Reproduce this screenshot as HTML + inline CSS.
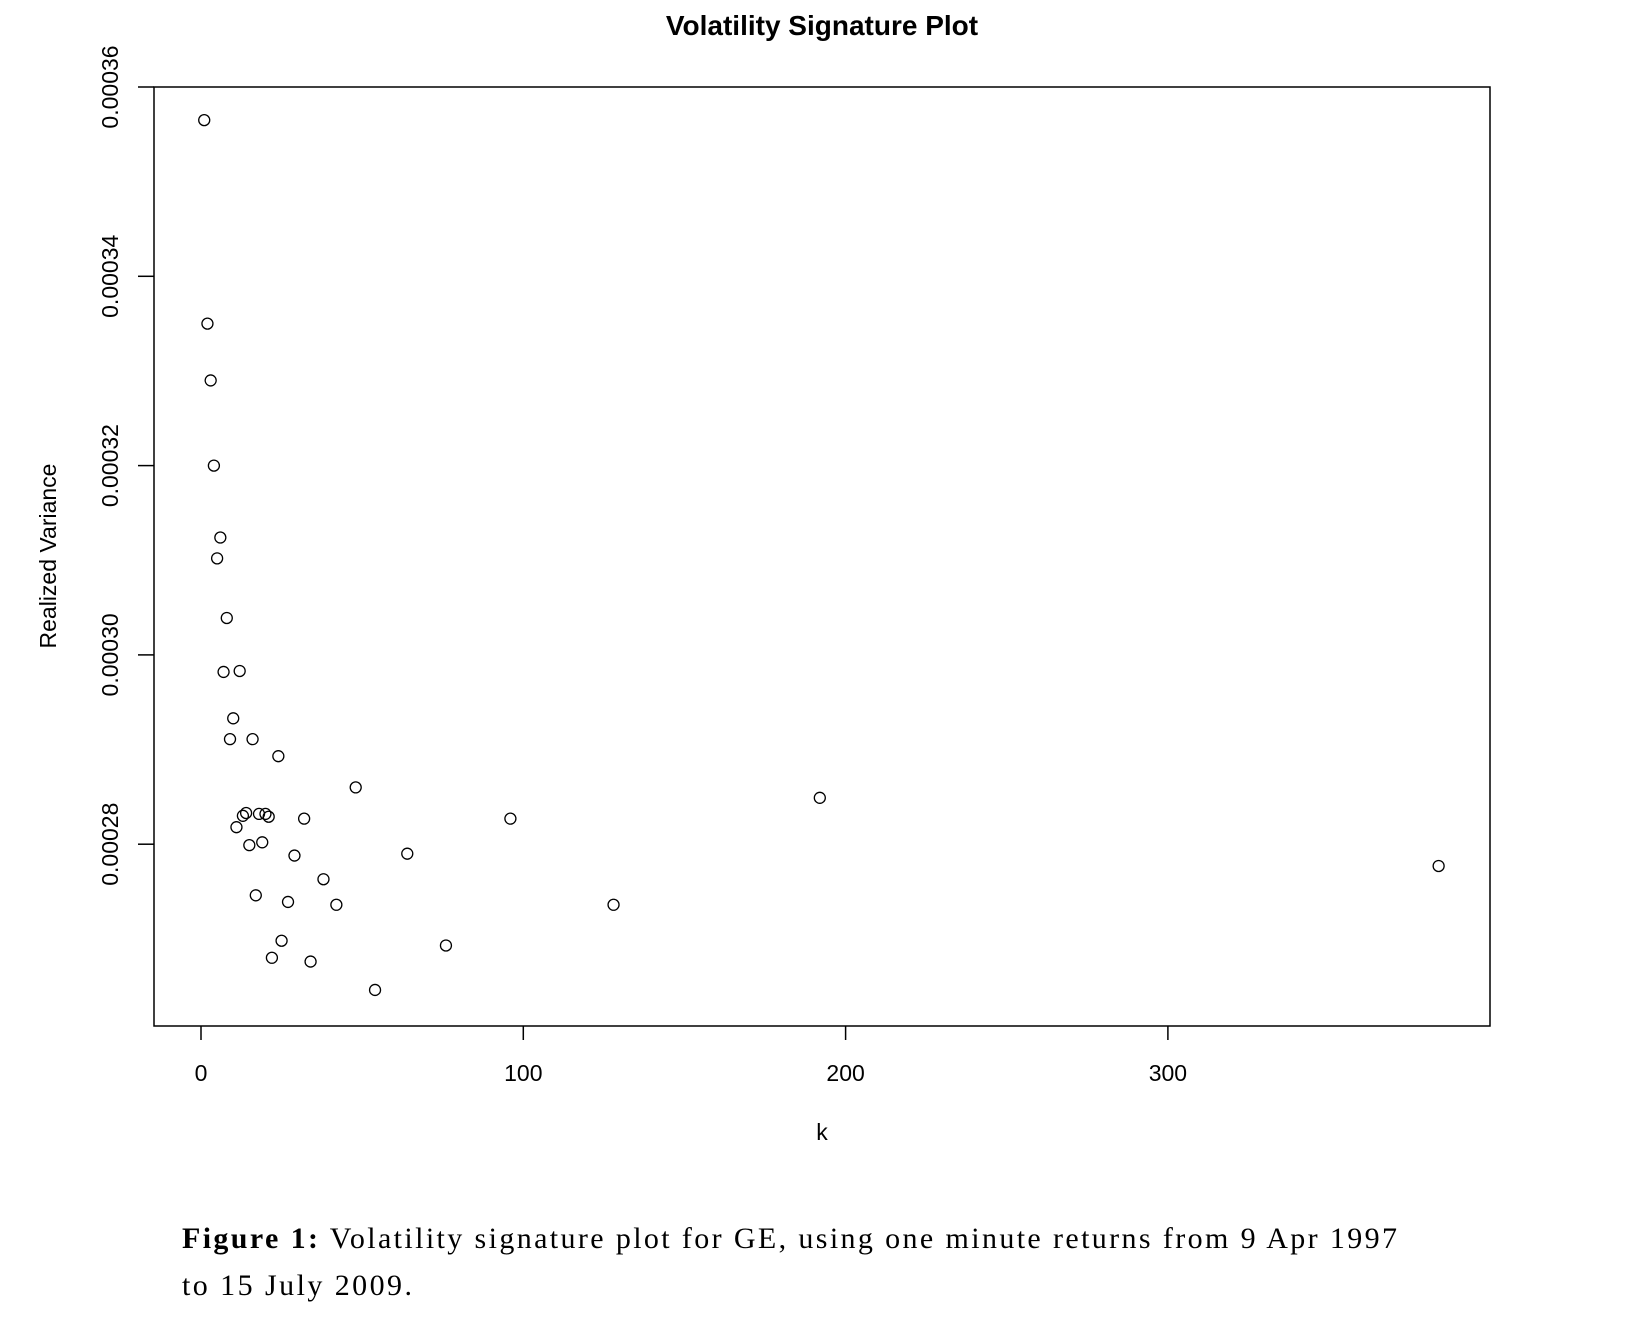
<!DOCTYPE html>
<html><head><meta charset="utf-8"><style>
html,body{margin:0;padding:0;background:#fff;width:1645px;height:1326px;overflow:hidden}
svg{display:block}
</style></head><body>
<svg id="chart" width="1645" height="1326" xmlns="http://www.w3.org/2000/svg">
<text x="822" y="35" text-anchor="middle" font-family="Liberation Sans, sans-serif" font-weight="bold" font-size="28">Volatility Signature Plot</text>
<rect x="154" y="87" width="1336" height="939" fill="none" stroke="#000" stroke-width="1.5"/>
<g id="xaxis"></g>
<g id="yaxis"></g>
<g id="points"></g>
<text x="822" y="1140" text-anchor="middle" font-family="Liberation Sans, sans-serif" font-size="23">k</text>
<text transform="translate(56,556) rotate(-90)" text-anchor="middle" font-family="Liberation Sans, sans-serif" font-size="23">Realized Variance</text>
<text x="182" y="1248" font-family="Liberation Serif, serif" font-size="30" textLength="1215" lengthAdjust="spacing"><tspan font-weight="bold">Figure 1:</tspan>  Volatility signature plot for GE, using one minute returns from 9 Apr 1997</text>
<text x="182" y="1295" font-family="Liberation Serif, serif" font-size="30" textLength="230" lengthAdjust="spacing">to 15 July 2009.</text>
</svg>
<script>
const kValues=[1,2,3,4,5,6,7,8,9,10,11,12,13,14,15,16,17,18,19,20,21,22,24,25,27,29,32,34,38,42,48,54,64,76,96,128,192,384];
const rvValues=[0.0003565,0.000335,0.000329,0.00032,0.0003102,0.0003124,0.0002982,0.0003039,0.0002911,0.0002933,0.0002818,0.0002983,0.000283,0.0002833,0.0002799,0.0002911,0.0002746,0.0002832,0.0002802,0.0002832,0.0002829,0.000268,0.0002893,0.0002698,0.0002739,0.0002788,0.0002827,0.0002676,0.0002763,0.0002736,0.000286,0.0002646,0.000279,0.0002693,0.0002827,0.0002736,0.0002849,0.0002777];
const xTicks=[0,100,200,300];
const yTicks=[0.00028,0.0003,0.00032,0.00034,0.00036];
const yTickLabels=["0.00028","0.00030","0.00032","0.00034","0.00036"];
const NS="http://www.w3.org/2000/svg";
function xs(v){return 201+v*3.223;}
function ys(v){return 87+(0.00036-v)/0.00002*189.3;}
function mk(tag,attrs,parent){const e=document.createElementNS(NS,tag);for(const k in attrs)e.setAttribute(k,attrs[k]);parent.appendChild(e);return e;}
const xa=document.getElementById('xaxis'),ya=document.getElementById('yaxis'),pg=document.getElementById('points');
xTicks.forEach(t=>{
  const l=mk('line',{x1:xs(t),x2:xs(t),y1:1026,y2:1040,stroke:'#000','stroke-width':1.5},xa);
  
  
  const tx=mk('text',{x:xs(t),y:1081,'text-anchor':'middle','font-family':'Liberation Sans, sans-serif','font-size':23},xa);
  tx.textContent=t;
  
  
});
yTicks.forEach((t,i)=>{
  const y=ys(t);
  const l=mk('line',{x1:138,x2:154,y1:y,y2:y,stroke:'#000','stroke-width':1.5},ya);
  
  
  const tx=mk('text',{transform:`translate(118,${y}) rotate(-90)`,'text-anchor':'middle','font-family':'Liberation Sans, sans-serif','font-size':23},ya);
  tx.textContent=yTickLabels[i];
  
  
});
kValues.forEach((k,i)=>{
  const c=mk('circle',{cx:xs(k),cy:ys(rvValues[i]),r:5.5,fill:'none',stroke:'#000','stroke-width':1.3},pg);
  
  
});
</script>
</body></html>
